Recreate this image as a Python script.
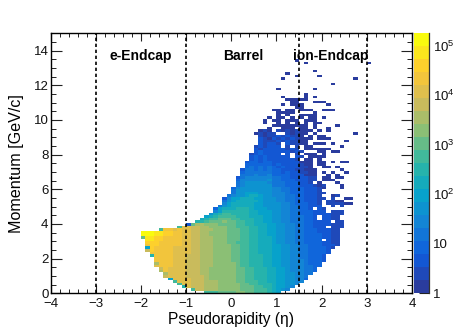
import numpy as np, pandas as pd, seaborn as sns
import matplotlib
matplotlib.use("Agg")
import matplotlib.pyplot as plt
from matplotlib.colors import LinearSegmentedColormap, LogNorm
from matplotlib.ticker import FixedLocator, NullFormatter

sns.set_theme(style="white")
plt.rcParams['font.family'] = ['Liberation Sans', 'DejaVu Sans']
plt.rcParams['mathtext.fontset'] = 'custom'
plt.rcParams['mathtext.rm'] = 'Liberation Sans'

ETA_TICKS = [-4, -3, -2, -1, 0, 1, 2, 3, 4]
P_TICKS = [0, 2, 4, 6, 8, 10, 12, 14]
REGIONS = ["e-Endcap", "Barrel", "ion-Endcap"]
REGION_EDGES = [-3, -1, 1.5, 3]
CBAR_TICKS = [1, 10, 100, 1000, 10000, 100000]
CBAR_LABELS = ["1", "10", "$10^{2}$", "$10^{3}$", "$10^{4}$", "$10^{5}$"]
BIRD = ["#2a3c9e", "#0f5cdd", "#1481d6", "#06a4ca", "#2eb7a4", "#87bf77", "#d1bb59", "#fec832", "#f9fb0e"]
# bin content for each colour step
LEVEL_COUNTS = [1.35, 2.47, 4.53, 8.3, 15.2, 27.9, 51, 94, 172, 315, 577, 1058, 1940, 3550, 6510, 11900, 21900, 40000, 73400, 134000]
LEVEL_CHARS = "0123456789abcdefghij"

# one string per momentum bin, top row first; groups of ten eta bins from eta=-2.1
CELLS = [
".......... .......... .......... .....0.... .......... ...",
".......... .......... .......... .......0.. .......... .0.",
".......... .......... .......... .......... .......... ...",
".......... .......... .......... .......... .......... ...",
".......... .......... .......... .........0 .......... ...",
".......... .......... .......... ...0...... .......... ...",
".......... .......... .......... .....0.... 0......... ...",
".......... .......... .......... ..0....... ........0. ...",
".......... .......... .......... .......... .......... ...",
".......... .......... .......... .......... ...0...... ...",
".......... .......... .......... .......... .......... ...",
".......... .......... .......... .0.......0 .......... ...",
".......... .......... .......... .......... .......... ...",
".......... .......... .......... .......0.. .......... ...",
".......... .......... .......... ..0....0.0 .......... ...",
".......... .......... .......... ...00000.. .......... ...",
".......... .......... .......... ....00...0 00........ ...",
".......... .......... .......... ..0.000... ..0....... ...",
".......... .......... .......... .....00... .......... ...",
".......... .......... .......... 00.00.000. .000...... ...",
".......... .......... .......... .0000....0 .......... ...",
".......... .......... .......... .0.0..0000 .......... ...",
".......... .......... .........0 .00.0.0.00 .0........ ...",
".......... .......... ........0. 00.000.000 .......... ...",
".......... .......... ........0. .0.0.0.0.0 0......... ...",
".......... .......... .......... 00000000.0 ....0..... ...",
".......... .......... .........0 ..000.00.0 ..0....... ...",
".......... .......... .......010 .10101000. 0.0....... ...",
".......... .......... ......0101 1..10100.0 ........0. ...",
".......... .......... .......101 1212110.0. 00........ ...",
".......... .......... .......210 212121000. 000....... ...",
".......... .......... .......211 12121100.. ......0... ...",
".......... .......... .......212 21.21100.0 00.0...... ...",
".......... .......... ......1212 22.1.1.00. .....0.... ...",
".......... .......... ......2122 222121.000 000....... ...",
".......... .......... ......2322 2222121... 00.00..... ...",
".......... .......... .....12322 22.2.1.000 .0........ ...",
".......... .......... .....23232 2222.21.00 00........ ...",
".......... .......... .....23232 222221.00. 0......... ...",
".......... .......... ....233233 222222000. 00.0.00... ...",
".......... .......... ....333333 232222100. 00........ ...",
".......... .......... ....343434 323222110. .00.0..... ...",
".......... .......... ...2443434 3322211000 .....0.... ...",
".......... .......... ...3444444 3323221100 .0.0..0... ...",
".......... .......... ...4445445 3333222000 ..0.0..... ...",
".......... .......... ..24555555 4433222211 .00.00.... ...",
".......... .......... ..35555556 4433322211 .000...... ...",
".......... .......... ..45666665 444333221. 0...0..... ...",
".......... .......... ..45666666 4443332221 01...0.... ...",
".......... .......... .356666666 5544333222 10...0.... ...",
".......... .......... .466666666 5544333222 1......... ...",
".......... .......... .466777666 5554333222 11........ ...",
".......... .......... 4566788766 5554433222 1..01..... ...",
".......... .........2 5778887766 6554433222 11.1..00.. ...",
".......... .........4 6788888766 6554433222 1.1100.... ...",
".......... .........5 7888887766 6655433322 1.111100.. ...",
".......... ........46 7888887766 6655443322 2..1.1.... ...",
".......... .......378 8899987776 665544332. 21........ ...",
".......... .......579 9999988777 6655443332 22.111.... ...",
".......... ......689a a999988777 6655443332 222111.... ...",
".......... .....789aa aa99988877 6655444332 .2211..... ...",
".......... ....89aabb baa9998877 6655444332 .2211..... ...",
".......... ...99abbbc bbaa998877 6655444332 222.11.... ...",
".......... .2bddcccbb bbaa998887 7665544332 222111.... ...",
".........a ffeeddcccc bbaaa99887 7665544332 22.111.... ...",
".....aggfg ffeedddccc bbbaa99887 7665544333 22211..... ...",
".jjjiihhgg ffeeddcccc bbbaa99887 7665544333 22211..... ...",
".jjjiihhgg ffeeddcccc bbbaa99887 7665544333 32211..... ...",
".biihhgggg ffeedddccc bbbaa99888 7665544333 32211..... ...",
"..iihhgggg ffeedddccc bbbaa99888 7665544333 3.211..... ...",
"..hhhggggg ffeedddccc bbaaa99888 7665544333 32211..... ...",
"..ghhggggg ffeedddccc cbbaa99888 7766554433 32221..... ...",
"..7hggggff ffeedddccc cbbaa99888 7766554433 3321...... ...",
"..ehggggff ffeedddccc cbbaa99888 7766554433 332....... ...",
"...gggggff ffeedddccc cbbaa99888 7766554433 332....... ...",
"...9ggggff feeedddccc cbbaa99988 7766554433 32........ ...",
"....ggggff feeedddccc cbbaa99988 7766554433 32........ ...",
"....ggggff feeedddccc cbbaa99988 7766555433 32........ ...",
"....dgggff feeedddccc ccbaa99988 7766555433 3......... ...",
"....fgggff feeedddccc ccbaa99988 7766555443 3......... ...",
".....egfff feeeddcccc ccbbaa9998 8776555443 .......... ...",
".....dgfff feeeddcccc ccbbaa9998 8776555443 .......... ...",
"......dfff feeeddcccc ccbbaa9998 877665544. .......... ...",
"......efff feeeedcccc ccbbaa9998 87766554.. .......... ...",
".......7ff ffeeedcccc ccbbaa9998 87766553.. .......... ...",
"........af ffeeedddcc ccbbaaa998 8776655... .......... ...",
".........a ffeeedddcc cccbbaa999 877665.... .......... ...",
".......... 9feeedddcc cccbbbaa99 87765..... .......... ...",
".......... ..aeedddcc cccbbbaaa9 8765...... .......... ...",
".......... .....aaabb bbccbbaaa9 87........ .......... ...",
]

ETA_BINS = 80
P_BINS = 100
ETA_BIN = 0.1
P_BIN = 0.15
FIRST_COL = 19

grid = np.full((P_BINS, ETA_BINS), np.nan)
n_rows = len(CELLS)
for i, row in enumerate(CELLS):
    r = n_rows - 1 - i
    for c, ch in enumerate(row.replace(" ", "")):
        if ch != ".":
            grid[r, FIRST_COL + c] = LEVEL_COUNTS[LEVEL_CHARS.index(ch)]
df = pd.DataFrame(grid)

def ex(v):
    return (v + 4) / ETA_BIN
def py(v):
    return v / P_BIN

W, H = 458, 330
fig = plt.figure(figsize=(W / 100, H / 100), dpi=100)
ax = fig.add_axes([50.5 / W, (H - 293.2) / H, 361.5 / W, 260 / H])
cax = fig.add_axes([414 / W, (H - 293.2) / H, 15 / W, 260 / H])

cmap = LinearSegmentedColormap.from_list("bird", BIRD, N=20)
sns.heatmap(df, ax=ax, cbar_ax=cax, cmap=cmap, norm=LogNorm(vmin=1, vmax=1.8e5),
            xticklabels=False, yticklabels=False, mask=np.isnan(grid))
ax.set_xlim(0, ETA_BINS)
ax.set_ylim(0, P_BINS)

ax.set_xticks([ex(v) for v in ETA_TICKS])
ax.set_xticklabels([str(v).replace("-", "\u2212") for v in ETA_TICKS])
ax.set_yticks([py(v) for v in P_TICKS])
ax.set_yticklabels([str(v) for v in P_TICKS])
ax.xaxis.set_minor_locator(FixedLocator([ex(-4 + 0.2 * i) for i in range(41)]))
ax.yaxis.set_minor_locator(FixedLocator([py(0.5 * i) for i in range(31)]))
ax.tick_params(axis="x", which="major", direction="in", length=5.8, width=0.8, top=True, bottom=True,
               color="#222222", labelsize=9.5, pad=3.5, labelcolor="#111111")
ax.tick_params(axis="x", which="minor", direction="in", length=2.9, width=0.7, top=True, bottom=True, color="#222222")
ax.tick_params(axis="y", which="major", direction="in", length=7.8, width=0.8, left=True, right=True,
               color="#222222", labelsize=9.5, pad=1.5, labelcolor="#111111")
ax.tick_params(axis="y", which="minor", direction="in", length=3.9, width=0.7, left=True, right=True, color="#222222")
for s in ax.spines.values():
    s.set_visible(True)
    s.set_color("black")
    s.set_linewidth(1.0)

for v in REGION_EDGES:
    ax.axvline(ex(v), color="black", lw=1.2, ls=(0, (2, 1.6)))

for name, x in zip(REGIONS, [-2.0, 0.27, 2.2]):
    ax.text(ex(x), py(13.7), name, ha="center", va="center", fontsize=10, fontweight="bold", color="black")

ax.set_xlabel("Pseudorapidity (\u03b7)", fontsize=11.2, labelpad=1.5, color="black")
ax.set_ylabel("Momentum [GeV/c]", fontsize=11.6, labelpad=7, color="black")

cb = ax.collections[0].colorbar
cb.set_ticks(CBAR_TICKS)
cb.set_ticklabels(CBAR_LABELS)
minors = [m * 10 ** e for e in range(6) for m in range(2, 10) if m * 10 ** e < 1.8e5]
cb.ax.yaxis.set_minor_locator(FixedLocator(minors))
cb.ax.yaxis.set_minor_formatter(NullFormatter())
cb.ax.tick_params(which="major", direction="in", length=7, width=0.8, right=True, color="#222222",
                  labelsize=9.5, pad=3, labelcolor="#111111")
cb.ax.tick_params(which="minor", direction="in", length=3.5, width=0.7, right=True, color="#222222")
cb.outline.set_visible(False)
cb.ax.spines["right"].set_visible(True)
cb.ax.spines["right"].set_color("#333333")
cb.ax.spines["right"].set_linewidth(0.9)

fig.savefig("out.png", dpi=100)
